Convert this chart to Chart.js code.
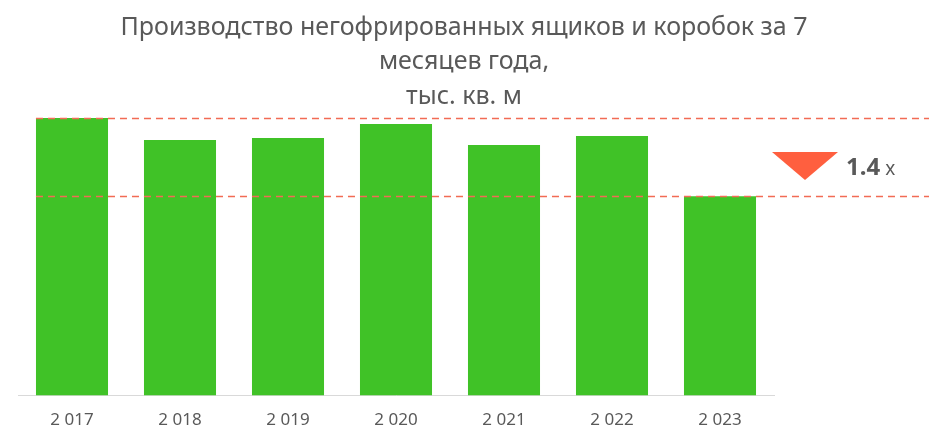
<!DOCTYPE html>
<html>
<head>
<meta charset="utf-8">
<script src="https://cdn.jsdelivr.net/npm/chart.js@4/dist/chart.umd.min.js"></script>
<style>
	html, body { margin: 0; padding: 0; background: #fff; }
	#wrap { width: 929px; height: 438px; }
</style>
</head>
<body>
<div id="wrap"><canvas id="myChart"></canvas></div>
<script>
var years = ["2 017", "2 018", "2 019", "2 020", "2 021", "2 022", "2 023"];
var volumes = [277, 255, 257, 271, 250, 259, 199];
var titleLines = ["Производство негофрированных ящиков и коробок за 7", "месяцев года,", "тыс. кв. м"];

var textGray = '#595959';
var fontName = "'Noto Sans', sans-serif";

// title, dashed guides and the drop marker
var overlay = {
	id: 'overlay',
	afterDraw: function(chart) {
		var ctx = chart.ctx;
		var y = chart.scales.y;
		var area = chart.chartArea;
		var meta = chart.getDatasetMeta(0);
		var first = meta.data[0];
		var xStart = first.x - first.width / 2;
		var yTop = y.getPixelForValue(volumes[0]);
		var yLow = y.getPixelForValue(volumes[volumes.length - 1]);

		ctx.save();
		ctx.fillStyle = textGray;
		ctx.textAlign = 'center';
		ctx.textBaseline = 'middle';
		ctx.font = '25px ' + fontName;
		var ty = [28, 62, 97];
		titleLines.forEach(function(t, i) {
			ctx.fillText(t, 464, ty[i]);
		});

		ctx.strokeStyle = '#F26B55';
		ctx.lineWidth = 1.5;
		ctx.setLineDash([7, 5]);
		[yTop, yLow].forEach(function(py) {
			ctx.beginPath();
			ctx.moveTo(xStart, Math.round(py) + 0.5);
			ctx.lineTo(chart.width, Math.round(py) + 0.5);
			ctx.stroke();
		});
		ctx.setLineDash([]);

		var midY = (yTop + yLow) / 2;
		var tx = area.right - 2;
		ctx.fillStyle = '#FF5F3F';
		ctx.beginPath();
		ctx.moveTo(tx, midY - 5);
		ctx.lineTo(tx + 66, midY - 5);
		ctx.lineTo(tx + 33, midY + 23);
		ctx.closePath();
		ctx.fill();

		var ratio = (volumes[0] / volumes[volumes.length - 1]).toFixed(1);
		ctx.fillStyle = textGray;
		ctx.textAlign = 'left';
		ctx.textBaseline = 'alphabetic';
		ctx.font = 'bold 24px ' + fontName;
		ctx.fillText(ratio, tx + 74, midY + 18);
		var w = ctx.measureText(ratio).width;
		ctx.font = '19px ' + fontName;
		ctx.fillText('x', tx + 74 + w + 5, midY + 18);
		ctx.restore();
	}
};

var ctx = document.getElementById('myChart').getContext('2d');
var myChart = new Chart(ctx, {
	type: 'bar',
	data: {
		labels: years,
		datasets: [
			{
				data: volumes,
				backgroundColor: '#40C227',
				borderWidth: 0,
				barPercentage: 0.667,
				categoryPercentage: 1
			}
		]
	},
	options: {
		responsive: true,
		maintainAspectRatio: false,
		animation: false,
		layout: {
			padding: { top: 95, left: 18, right: 155, bottom: 2 }
		},
		plugins: {
			legend: { display: false },
			tooltip: { enabled: false }
		},
		scales: {
			x: {
				grid: { display: false },
				border: { color: '#D9D9D9', width: 1 },
				ticks: {
					color: textGray,
					font: { family: fontName, size: 17 },
					padding: 6
				}
			},
			y: {
				display: false,
				min: 0,
				max: 300
			}
		}
	},
	plugins: [overlay]
});
</script>
</body>
</html>
